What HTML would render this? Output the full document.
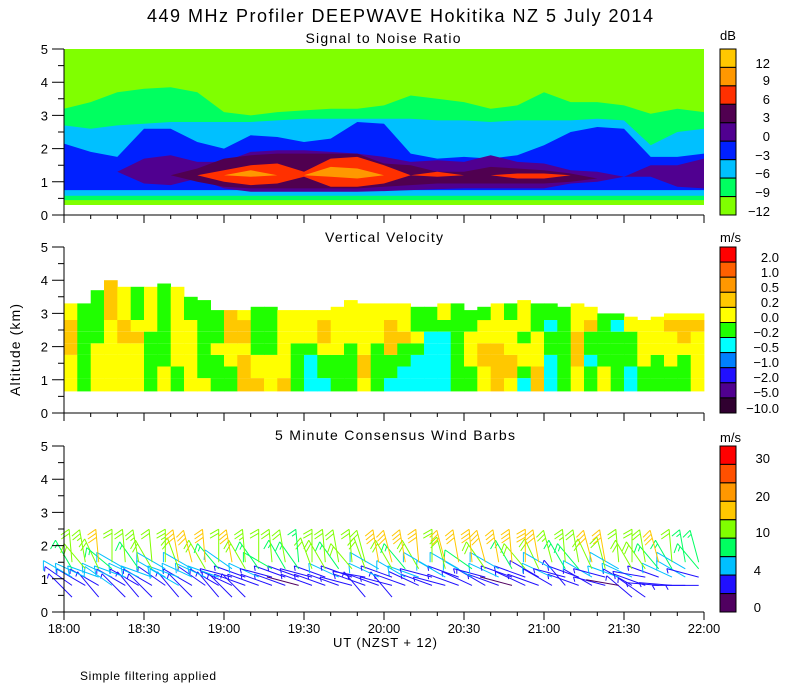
<!DOCTYPE html>
<html><head><meta charset="utf-8"><style>
html,body{margin:0;padding:0;background:#fff;}
svg{display:block;font-family:"Liberation Sans",sans-serif;}
</style></head><body>
<svg id="chart" width="800" height="700" viewBox="0 0 800 700" xmlns="http://www.w3.org/2000/svg">
<text x="400" y="22" text-anchor="middle" font-size="18" textLength="506">449 MHz Profiler DEEPWAVE Hokitika NZ  5 July 2014</text>
<text x="383" y="43" text-anchor="middle" font-size="14" textLength="155">Signal to Noise Ratio</text>
<text x="384" y="242" text-anchor="middle" font-size="14" textLength="118">Vertical Velocity</text>
<text x="395" y="440" text-anchor="middle" font-size="14" textLength="240">5 Minute Consensus Wind Barbs</text>
<text transform="translate(20,350) rotate(-90)" text-anchor="middle" font-size="14" textLength="92">Altitude (km)</text>
<text x="385" y="647" text-anchor="middle" font-size="13" textLength="104">UT  (NZST + 12)</text>
<text x="80" y="680" font-size="12" textLength="136">Simple filtering applied</text>
<g id="snr"></g>
<g id="vv"></g>
<g id="wind"></g>
<g id="axes"></g>
<g id="cbars"></g>
</svg>
<script>
// ---------- data ----------
const snrTimes = [0,10,20,30,40,50,60,70,80,90,100,110,120,130,140,150,160,170,180,190,200,210,220,230,240];
const snrTop9 = [3.2,3.4,3.7,3.8,3.85,3.7,3.1,3.0,3.1,3.15,3.2,3.2,3.3,3.6,3.5,3.4,3.2,3.3,3.7,3.4,3.4,3.3,3.05,3.2,3.1];
const snrTop6 = [2.7,2.6,2.7,2.75,2.8,2.8,2.8,2.8,2.85,2.9,2.9,2.9,2.9,2.9,2.85,2.85,2.8,2.85,2.85,2.85,2.9,2.85,2.1,2.5,2.6];
const snrTop3 = [2.15,1.9,1.75,2.6,2.6,2.2,2.0,2.4,2.35,2.2,2.3,2.8,2.75,1.85,1.7,1.75,1.7,1.8,2.1,2.5,2.65,2.6,1.75,1.75,1.85];
const snrLo0 = [1.3,1.3,1.3,0.95,0.9,1.1,0.8,0.7,0.7,0.7,0.7,0.7,0.72,0.75,0.78,0.8,0.8,0.8,0.8,0.95,1.0,1.15,1.15,0.85,0.8];
const snrHi0 = [1.3,1.3,1.3,1.7,1.8,1.6,1.6,1.9,1.95,1.95,1.9,1.85,1.75,1.6,1.65,1.6,1.8,1.6,1.55,1.35,1.3,1.15,1.5,1.5,1.7];
const snrLo3 = [1.2,1.2,1.2,1.2,1.2,1.0,0.85,0.8,0.8,0.8,0.8,0.8,0.85,0.9,0.95,0.95,0.95,0.95,0.95,1.0,1.1,1.1,1.1,1.1,1.1];
const snrHi3 = [1.2,1.2,1.2,1.2,1.2,1.4,1.7,1.8,1.85,1.85,1.85,1.85,1.55,1.5,1.3,1.3,1.45,1.4,1.35,1.25,1.1,1.1,1.1,1.1,1.1];
const snrLo6 = [1.2,1.2,1.2,1.2,1.2,1.2,1.0,0.9,0.95,1.15,0.85,0.85,0.95,1.2,1.15,1.2,1.2,1.1,1.1,1.2,1.2,1.2,1.2,1.2,1.2];
const snrHi6 = [1.2,1.2,1.2,1.2,1.2,1.2,1.35,1.5,1.55,1.3,1.7,1.75,1.5,1.2,1.3,1.2,1.2,1.25,1.25,1.2,1.2,1.2,1.2,1.2,1.2];
const snrLo9 = [1.2,1.2,1.2,1.2,1.2,1.2,1.2,1.15,1.2,1.2,1.15,1.1,1.2,1.2,1.2,1.2,1.2,1.2,1.2,1.2,1.2,1.2,1.2,1.2,1.2];
const snrHi9 = [1.2,1.2,1.2,1.2,1.2,1.2,1.2,1.35,1.2,1.2,1.45,1.4,1.2,1.2,1.2,1.2,1.2,1.2,1.2,1.2,1.2,1.2,1.2,1.2,1.2];
const snrBase = [0.3,0.45,0.58,0.75];

const vvTop = [3.3,3.3,3.7,4.0,3.8,3.8,3.8,3.9,3.8,3.5,3.4,3.1,3.1,3.1,3.2,3.2,3.1,3.1,3.1,3.1,3.2,3.4,3.3,3.3,3.3,3.3,3.2,3.2,3.3,3.3,3.1,3.2,3.3,3.3,3.4,3.3,3.3,3.2,3.3,3.2,3.0,3.0,2.9,2.8,2.9,3.0,3.0,3.0];
const vvRowEdges = [0.65,1.05,1.4,1.75,2.1,2.45,2.8];
const vvValues = [
[0.1,0.1,0.1,0.3,0.3,0.3,0.1],[-0.1,-0.1,-0.1,-0.1,-0.1,-0.1,-0.1],[0.1,0.1,0.1,0.1,-0.1,-0.1,-0.1],[0.1,0.1,0.1,0.1,0.1,0.1,0.3],
[0.1,0.1,0.1,0.1,0.3,0.3,0.1],[0.1,0.1,0.1,0.1,0.3,0.1,-0.1],[-0.1,-0.1,-0.1,-0.1,-0.1,0.1,0.1],[0.1,0.1,-0.1,-0.1,-0.1,-0.1,-0.1],
[-0.1,-0.1,0.1,0.1,0.1,0.1,0.1],[0.1,0.1,0.1,0.1,0.1,0.1,-0.1],[0.1,-0.1,-0.1,-0.1,-0.1,-0.1,-0.1],[-0.1,-0.1,-0.1,0.1,-0.1,-0.1,-0.1],
[-0.1,-0.1,0.1,0.1,0.3,0.3,0.3],[0.3,0.3,0.3,0.1,0.3,0.3,0.1],[0.3,0.1,0.1,-0.1,-0.1,-0.1,-0.1],[0.1,0.1,0.1,-0.1,-0.1,-0.1,-0.1],
[0.3,0.1,0.1,0.1,0.1,0.1,0.1],[-0.1,-0.1,-0.1,-0.1,0.1,0.1,0.1],[-0.3,-0.3,-0.3,-0.1,0.1,0.1,0.1],[-0.3,-0.1,-0.1,0.1,0.3,0.3,0.1],
[-0.1,-0.1,-0.1,0.1,0.1,0.1,0.1],[-0.1,-0.1,-0.1,-0.1,0.1,0.1,0.1],[0.1,0.3,0.3,0.1,0.1,0.1,0.1],[-0.1,-0.1,-0.1,-0.1,0.1,0.1,0.1],
[-0.3,-0.1,-0.1,0.3,0.3,0.3,0.1],[-0.3,-0.3,-0.1,-0.1,0.3,0.1,0.1],[-0.3,-0.3,-0.3,-0.1,0.1,-0.1,-0.1],[-0.3,-0.3,-0.3,-0.3,-0.3,-0.1,-0.1],
[-0.3,-0.3,-0.3,-0.3,-0.3,-0.1,0.1],[-0.1,-0.1,-0.1,-0.1,-0.1,-0.1,-0.1],[-0.1,-0.1,0.1,0.1,0.1,-0.1,-0.1],[0.1,0.1,0.3,0.3,0.1,0.1,-0.1],
[0.3,0.3,0.3,0.3,0.1,0.1,0.1],[0.1,0.3,0.3,0.1,0.1,0.1,-0.1],[-0.3,-0.1,0.1,0.1,-0.1,0.1,0.1],[0.3,0.3,0.1,0.1,0.1,-0.1,-0.1],
[-0.3,-0.3,-0.3,-0.1,-0.1,-0.3,-0.1],[-0.1,-0.1,-0.1,-0.1,-0.1,-0.1,-0.1],[0.1,0.1,0.3,0.3,0.3,0.1,0.1],[-0.1,-0.1,-0.3,-0.1,-0.1,0.3,0.1],
[0.1,0.1,-0.1,-0.1,-0.1,-0.1,-0.1],[-0.1,-0.1,-0.1,-0.1,-0.1,-0.3,-0.1],[-0.3,-0.3,-0.1,-0.1,-0.1,0.1,0.1],[-0.1,-0.1,0.1,0.1,0.1,0.1,0.1],
[-0.1,-0.1,-0.1,0.1,0.1,0.1,0.1],[-0.1,-0.1,0.1,0.1,0.1,0.3,0.1],[-0.1,-0.1,-0.1,0.1,0.3,0.3,0.1],[0.1,0.1,0.1,0.1,0.1,0.3,0.1]];

const windLevels = [0.45,0.8,1.05,1.3,1.5];
const windSpd0 = [3,null,3,null,3,3,3,null,3,3,null,3,3,3,null,null,null,null,null,null,null,null,3,null,3,null,null,null,null,null,null,null,null,null,null,null,null,null,null,null,null,null,3,3,null,null,null,null];
const windDir0 = [315,315,320,315,315,320,315,315,320,315,315,320,315,315,315,315,315,315,315,315,315,315,320,315,320,315,315,315,315,315,315,315,315,315,315,315,315,315,315,315,315,315,310,305,315,315,315,315];
const windSpd1 = [3,3,3,5,3,3,3,3,5,3,3,3,3,3,3,3,3,1,3,3,3,3,3,3,3,3,3,3,3,3,3,3,3,1,3,3,3,3,3,3,3,1,3,3,3,3,3,3];
const windDir1 = [305,300,300,305,300,300,300,305,300,300,305,300,295,290,290,290,290,285,290,290,290,285,290,290,285,290,295,290,285,290,295,300,290,285,295,290,300,320,290,300,285,280,300,290,275,275,270,270];
const windSpd2 = [5,5,6,5,6,6,5,5,6,5,6,5,3,3,6,3,3,3,3,3,6,3,3,6,3,6,6,3,6,3,5,3,6,3,3,3,6,3,3,5,3,5,6,3,3,5,6,3];
const windDir2 = [300,295,290,295,290,295,290,300,290,295,295,290,285,290,295,285,290,290,285,290,295,290,280,295,290,300,290,285,300,290,300,285,295,290,290,300,295,285,290,300,285,290,295,280,290,295,300,285];
const windSpd3 = [9,10,11,8,6,9,10,6,12,6,11,8,6,10,9,7,9,9,12,10,9,10,12,6,11,9,10,6,12,6,7,10,6,9,10,11,6,9,9,11,12,6,10,10,9,9,6,8];
const windDir3 = [330,320,335,310,300,325,330,300,340,300,330,320,305,330,325,300,330,325,340,330,325,320,340,300,330,320,330,300,345,300,305,325,300,330,320,335,300,330,320,335,345,300,330,325,320,330,300,320];
const windSpd4 = [12,14,16,12,12,13,12,13,16,17,17,12,17,13,12,12,12,9,12,12,12,12,12,16,16,16,17,12,16,17,17,17,16,16,16,16,13,13,12,16,16,12,12,12,16,12,9,9];
const windDir4 = [355,350,355,0,355,350,355,0,350,345,355,0,350,355,0,355,350,355,0,355,350,355,345,350,345,350,355,0,345,350,355,345,350,355,0,350,345,355,350,345,350,355,0,350,345,355,350,345];

const snrLabels = ["12","9","6","3","0","\u22123","\u22126","\u22129","\u221212"];
const vvLabels = ["2.0","1.0","0.5","0.2","0.0","\u22120.2","\u22120.5","\u22121.0","\u22122.0","\u22125.0","\u221210.0"];
const windLabels = ["30","20","10","4","0"];
const timeLabels = ["18:00","18:30","19:00","19:30","20:00","20:30","21:00","21:30","22:00"];
const altLabels = ["0","1","2","3","4","5"];

// ---------- styles / scales ----------
const NS="http://www.w3.org/2000/svg";
const snrColors=["#ffc800","#ff9800","#ff3000","#500050","#500090","#0020ff","#00c0ff","#00ff60","#80ff00"];
const vvColors=["#ff0000","#ff6000","#ff9800","#ffc800","#ffff00","#20ff00","#00ffff","#0080ff","#2010ff","#500090","#300030"];
const windColors=["#ff0000","#ff5000","#ff9800","#ffc800","#80ff00","#00ff60","#00c0ff","#2010ff","#500060"];
const panels={snr:[49,215],vv:[247,413],wind:[446,612]};
const X0=64,X1=704;
function xT(m){return X0+m*(X1-X0)/240;}
function yS(p,km){const r=panels[p];return r[1]-km*(r[1]-r[0])/5;}
function mk(tag,attrs,parent){const e=document.createElementNS(NS,tag);for(const k in attrs)e.setAttribute(k,attrs[k]);parent.appendChild(e);return e;}

// ---------- SNR ----------
const gS=document.getElementById('snr');
function band(lo,hi,color,name){
  let d="";
  snrTimes.forEach((t,i)=>{d+=(i?"L":"M")+xT(t).toFixed(1)+","+yS('snr',lo[i]).toFixed(1);});
  for(let i=snrTimes.length-1;i>=0;i--)d+="L"+xT(snrTimes[i]).toFixed(1)+","+yS('snr',hi[i]).toFixed(1);
  const p=mk('path',{d:d+"Z",fill:color},gS);
  
  
}
const c=v=>snrTimes.map(()=>v);
band(c(snrBase[0]),c(5),snrColors[8],'snr-band-m12');
band(c(snrBase[1]),snrTop9,snrColors[7],'snr-band-m9');
band(c(snrBase[2]),snrTop6,snrColors[6],'snr-band-m6');
band(c(snrBase[3]),snrTop3,snrColors[5],'snr-band-m3');
band(snrLo0,snrHi0,snrColors[4],'snr-band-0');
band(snrLo3,snrHi3,snrColors[3],'snr-band-3');
band(snrLo6,snrHi6,snrColors[2],'snr-band-6');
band(snrLo9,snrHi9,snrColors[1],'snr-band-9');

// ---------- Vertical velocity ----------
const gV=document.getElementById('vv');
function vvColor(v){const th=[2,1,0.5,0.2,0,-0.2,-0.5,-1,-2,-5];for(let i=0;i<th.length;i++)if(v>=th[i])return vvColors[i];return vvColors[10];}
vvValues.forEach((col,i)=>{
  const xa=xT(i*5),xb=xT(i*5+5);
  col.forEach((v,r)=>{
    const lo=vvRowEdges[r],hi=(r+1<vvRowEdges.length)?vvRowEdges[r+1]:vvTop[i];
    const y1=yS('vv',hi),y0=yS('vv',lo);
    const rc=mk('rect',{x:xa.toFixed(1),y:y1.toFixed(1),width:(xb-xa+0.4).toFixed(1),height:(y0-y1).toFixed(1),fill:vvColor(v)},gV);
    
    
  });
});

// ---------- Wind barbs ----------
const gW=document.getElementById('wind');
function windColor(s){const th=[30,25,20,15,10,7,4,2];for(let i=0;i<th.length;i++)if(s>=th[i])return windColors[i];return windColors[8];}
const spdSets=[windSpd0,windSpd1,windSpd2,windSpd3,windSpd4];
const dirSets=[windDir0,windDir1,windDir2,windDir3,windDir4];
spdSets.forEach((spd,L)=>{
  spd.forEach((s,i)=>{
    if(s===null)return;
    const d=dirSets[L][i]*Math.PI/180;
    const bx=xT(3+i*5),by=yS('wind',windLevels[L]);
    const dx=Math.sin(d),dy=-Math.cos(d),len=33;
    const ex=bx+dx*len,ey=by+dy*len;
    const col=windColor(s);
    let path="M"+bx.toFixed(1)+","+by.toFixed(1)+"L"+ex.toFixed(1)+","+ey.toFixed(1);
    const ca=Math.cos(4*Math.PI/3),sa=Math.sin(4*Math.PI/3);
    const fx=dx*ca-dy*sa,fy=dx*sa+dy*ca;
    let n=Math.floor(s/5),half=(s%5)>=2.5?1:0,k=0;
    for(;k<n;k++){const px=ex-dx*k*4,py=ey-dy*k*4;path+="M"+px.toFixed(1)+","+py.toFixed(1)+"l"+(fx*10).toFixed(1)+","+(fy*10).toFixed(1);}
    if(half){const px=ex-dx*k*4,py=ey-dy*k*4;path+="M"+px.toFixed(1)+","+py.toFixed(1)+"l"+(fx*5).toFixed(1)+","+(fy*5).toFixed(1);}
    const p=mk('path',{d:path,stroke:col,'stroke-width':1,fill:'none'},gW);
    
    
  });
});

// ---------- Axes ----------
const gA=document.getElementById('axes');
['snr','vv','wind'].forEach(p=>{
  const [t,b]=panels[p];
  const ax=mk('path',{d:`M${X0},${t}V${b}H${X1}`,stroke:'#000','stroke-width':1,fill:'none'},gA);
  
  
  let d="";
  for(let k=0;k<=10;k++){const y=yS(p,k/2);d+=`M${X0},${y.toFixed(1)}h${k%2?-6:-12}`;}
  for(let m=0;m<=240;m+=10){const x=xT(m);d+=`M${x.toFixed(1)},${b}v${m%30?4:8}`;}
  const tk=mk('path',{d:d,stroke:'#000','stroke-width':1,fill:'none'},gA);
  
  
  altLabels.forEach((l,k)=>{
    const tx=mk('text',{x:48,y:(yS(p,k)+5).toFixed(1),'text-anchor':'end','font-size':13},gA);
    tx.textContent=l;
    
    
  });
});
timeLabels.forEach((l,k)=>{
  const tx=mk('text',{x:xT(k*30).toFixed(1),y:633,'text-anchor':'middle','font-size':13},gA);
  tx.textContent=l;
  
  
});

// ---------- Colorbars ----------
const gC=document.getElementById('cbars');
function cbar(colors,top,bottom,labels,labelYs,labelX,unit,unitX,unitY,name){
  const h=(bottom-top)/colors.length;
  colors.forEach((cl,i)=>{
    const r=mk('rect',{x:720,y:(top+i*h).toFixed(1),width:16,height:h.toFixed(1),fill:cl,stroke:'#000','stroke-width':1},gC);
    
    
  });
  labels.forEach((l,i)=>{
    const t=mk('text',{x:labelX[i]!==undefined?labelX[i]:labelX[0],y:labelYs[i]+5,'text-anchor':'end','font-size':13},gC);
    t.textContent=l;
    
    
  });
  const u=mk('text',{x:unitX,y:unitY,'text-anchor':'start','font-size':13},gC);
  u.textContent=unit;
  
  
}
cbar(snrColors,49,215,snrLabels,[63,80,99,117,136,155,173,192,211],[770],"dB",720,40,'snr-colorbar');
cbar(vvColors,247,413,vvLabels,[257,272,287,302,317,332,347,362,377,392,408],[779],"m/s",720,242,'vv-colorbar');
cbar(windColors,446,612,windLabels,[458,496,532,570,607],[770,770,770,761,761],"m/s",720,442,'wind-colorbar');
</script>
</body></html>
